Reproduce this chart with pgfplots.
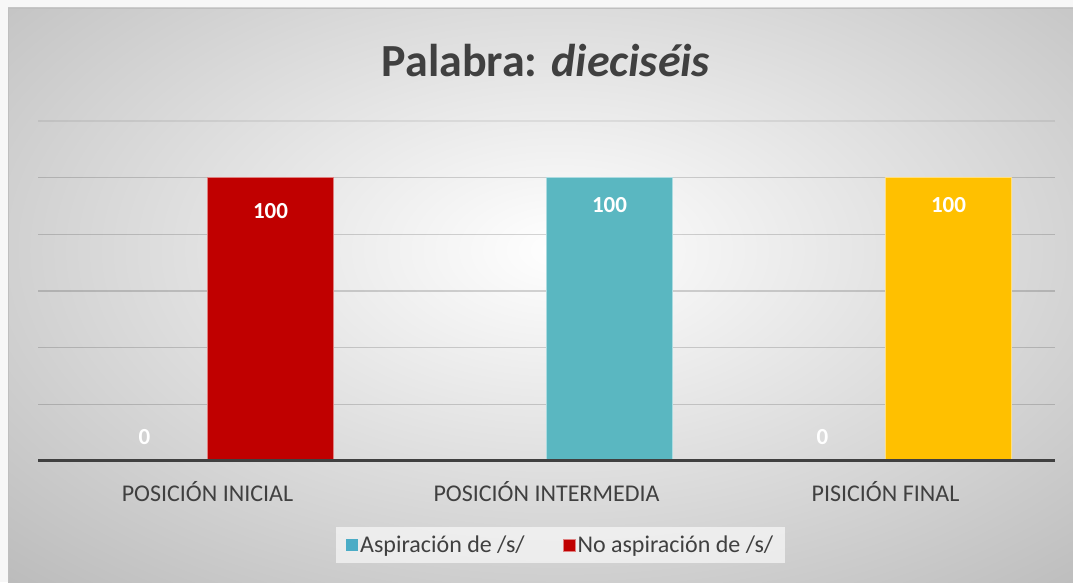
\documentclass[border=0pt]{standalone}
\usepackage{fontspec}
\setmainfont{Carlito}
\usepackage{pgfplots}
\pgfplotsset{compat=1.18}
\definecolor{rojo}{HTML}{C00000}
\definecolor{turq}{HTML}{5AB7C1}
\definecolor{azul}{HTML}{4BACC6}
\definecolor{amar}{HTML}{FFC000}
\definecolor{texto}{HTML}{404040}
\begin{document}
\begin{tikzpicture}[x=1pt,y=1pt]
\useasboundingbox (0,0) rectangle (1073,582);
\fill[white!97!black] (0,0) rectangle (1073,582);
\begin{scope}
  \clip (8,0) rectangle (1073,574);
  \shade[inner color=white, outer color=black!27] (560-820,332-470) rectangle (560+820,332+470);
\end{scope}
\draw[black!25, line width=0.8pt] (8,0) -- (8,574) -- (1073,574);
\node[font=\fontsize{46}{52}\selectfont\bfseries, text=texto] at (546,521) {Palabra: \textit{dieciséis}};
\begin{axis}[
  at={(38pt,121pt)}, anchor=south west,
  scale only axis, width=1017pt, height=340pt,
  xmin=-0.5, xmax=2.5, ymin=0, ymax=120,
  ybar,
  /pgf/number format/assume math mode=true,
  axis x line*=bottom, axis y line*=left,
  x axis line style={draw=none},
  y axis line style={draw=none},
  ytick={20,40,...,100}, yticklabels={},
  extra y ticks={120}, extra y tick labels={},
  extra y tick style={major grid style={black, draw opacity=0.07, line width=1.3pt}},
  ymajorgrids, major grid style={black, draw opacity=0.16, line width=1.3pt},
  major tick length=0pt,
  xtick={0,1,2},
  xticklabels={POSICIÓN INICIAL, POSICIÓN INTERMEDIA, PISICIÓN FINAL},
  xticklabel style={font=\fontsize{24}{28}\selectfont, text=texto, anchor=center, yshift=-31pt},
  every node near coord/.append style={font=\fontsize{23}{27}\selectfont\bfseries, text=white, anchor=center},
  legend style={at={(0.514,-0.247)}, anchor=center, draw=none, fill=white, fill opacity=0.6, text opacity=1,
    font=\fontsize{24}{28}\selectfont, text=texto, legend columns=2,
    /tikz/every even column/.append style={column sep=36pt}, inner xsep=10pt, inner ysep=7pt},
  legend image code/.code={\fill[#1, fill opacity=1] (0pt,-6pt) rectangle (12pt,6pt);},
  ]
\addplot[fill=azul, draw=none, bar width=126pt, bar shift=-63pt, nodes near coords,
  every node near coord/.append style={yshift=24pt}] coordinates {(0,0) (2,0)};
\addlegendentry{Aspiración de /s/}
\addplot[fill=rojo, draw=rojo!50!white, line width=0.8pt, bar width=126pt, bar shift=63pt, nodes near coords,
  every node near coord/.append style={yshift=-33pt}] coordinates {(0,100)};
\addlegendentry{No aspiración de /s/}
\addplot[fill=turq, draw=turq!50!white, line width=0.8pt, bar width=126pt, bar shift=63pt, nodes near coords, forget plot,
  every node near coord/.append style={yshift=-27pt}] coordinates {(1,100)};
\addplot[fill=amar, draw=amar!50!white, line width=0.8pt, bar width=126pt, bar shift=63pt, nodes near coords, forget plot,
  every node near coord/.append style={yshift=-27pt}] coordinates {(2,100)};
\draw[texto, line width=4pt] (rel axis cs:0,0) -- (rel axis cs:1,0);
\end{axis}
\end{tikzpicture}
\end{document}
